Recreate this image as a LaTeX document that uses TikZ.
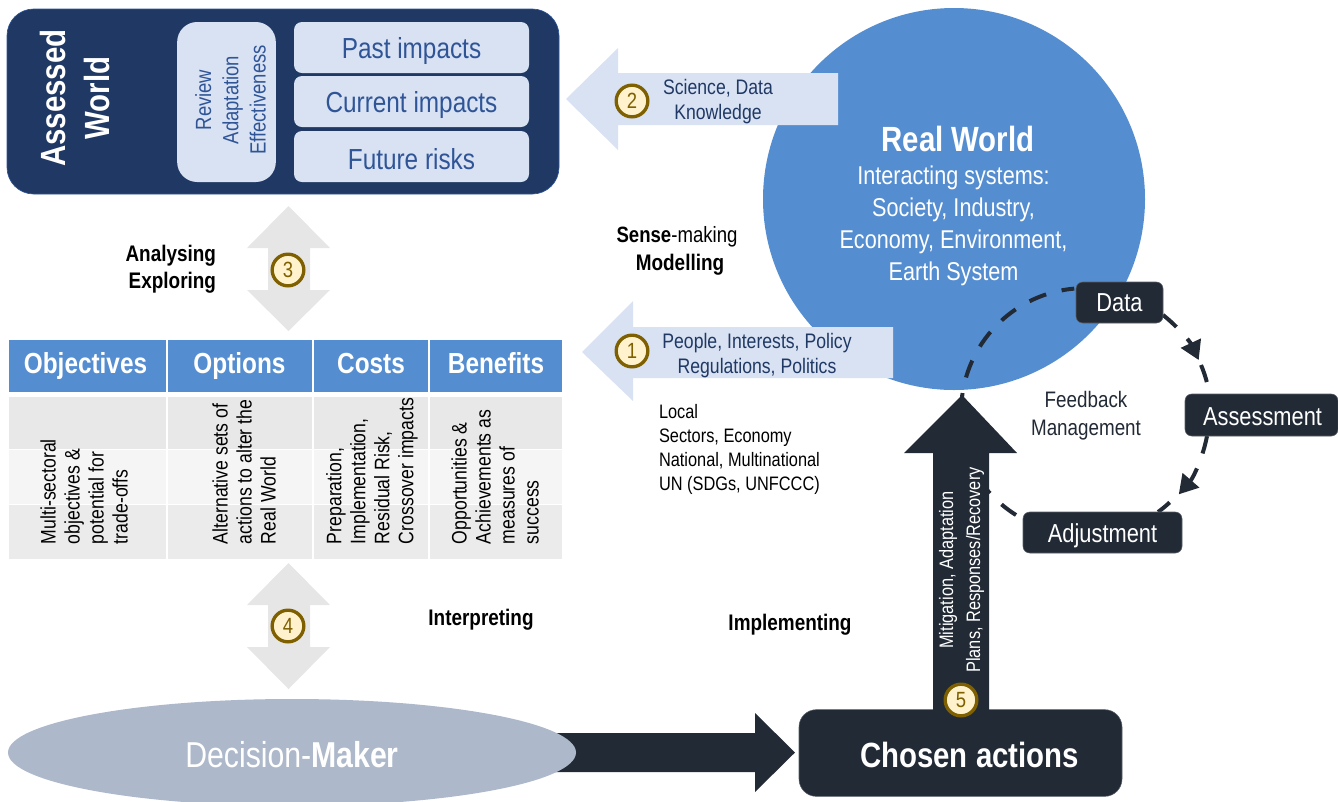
\documentclass[tikz,border=0pt]{standalone}
\usepackage{fontspec}
\setmainfont{Liberation Sans}[FakeStretch=0.84]
\usetikzlibrary{arrows.meta,shapes.geometric}
\definecolor{navy}{HTML}{1F3864}
\definecolor{lblue}{HTML}{D9E2F3}
\definecolor{tblue}{HTML}{2F5597}
\definecolor{mblue}{HTML}{558ED0}
\definecolor{dark}{HTML}{222A35}
\definecolor{agrey}{HTML}{E7E6E6}
\definecolor{cfill}{HTML}{FFF2CC}
\definecolor{cline}{HTML}{7F6000}
\definecolor{slate}{HTML}{ADB9CA}
\newcommand\fs[2]{\fontsize{#1}{#2}\selectfont}
\newcommand\lw[2]{\raisebox{-#1}[\height][\depth]{#2}}
\tikzset{
  x=0.75pt,y=-0.75pt,
  txt/.style={inner sep=0pt,outer sep=0pt,align=center},
  inbox/.style={fill=lblue,rounded corners=6pt,inner sep=0pt,outer sep=0pt,text=tblue,font=\fs{21.75}{26}},
  numc/.style={circle,fill=cfill,draw=cline,line width=2.5pt,minimum size=23.75pt,inner sep=0pt,text=cline,font=\fs{16.5}{18}},
  hdr/.style={fill=mblue,inner sep=0pt,outer sep=0pt,text=white,text height=15.5pt,text depth=4.5pt,font=\fs{21.75}{26}\bfseries},
  body/.style={txt,align=left,rotate=90,anchor=west,font=\fs{15.75}{18}},
  dkbox/.style={fill=dark,draw=dark!75!white,line width=0.4pt,rounded corners=5pt,inner sep=0pt,outer sep=0pt,text=white,font=\fs{19.5}{23}},
  fbdash/.style={draw=dark,line width=3pt,dash pattern=on 13.5pt off 12pt},
  fbhead/.style={-{Triangle[length=14pt,width=16pt]}},
  bl/.style={txt,font=\fs{16.9}{20}\bfseries},
  nm/.style={txt,font=\fs{15.75}{18.75}}
}
\begin{document}
\begin{tikzpicture}
\useasboundingbox (0,0) rectangle (1338,801);
% Real world
\node[circle,fill=mblue,minimum size=286.5pt,inner sep=0pt] (real) at (954,199) {};
\node[txt,text=white,font=\fs{26.25}{30}\bfseries] (realt) at (958,139) {Real World};
\node[txt,text=white,font=\fs{19.3}{24}] (realb) at (953.5,225.5) {Interacting systems:\\Society, Industry,\\Economy, Environment,\\Earth System};
% Assessed World
\node[fill=navy,draw=tblue,line width=0.5pt,rounded corners=20pt,minimum width=414pt,minimum height=138.75pt,inner sep=0pt] (aw) at (283,101.5) {};
\node[txt,rotate=90,text=white,font=\fs{26.25}{33}\bfseries] (awt) at (75,98) {Assessed\\World};
\node[inbox,rounded corners=15pt,minimum width=74pt,minimum height=120pt] (rev) at (226.5,102) {};
\node[txt,rotate=90,text=tblue,font=\fs{16.5}{20.5}] (revt) at (230.5,100) {Review\\Adaptation\\Effectiveness};
\node[inbox,minimum width=176.25pt,minimum height=38.25pt] (past) at (411.5,47.5) {\lw{2.8pt}{Past impacts}};
\node[inbox,minimum width=176.25pt,minimum height=38.25pt] (curr) at (411.5,101.5) {\lw{2.8pt}{Current impacts}};
\node[inbox,minimum width=176.25pt,minimum height=38.25pt] (fut) at (411.5,156.5) {\lw{2.2pt}{Future risks}};
% Grey double arrows
\path[fill=agrey] (288.5,206) -- (330,248) -- (310,248) -- (310,290) -- (330,290) -- (288.5,331) -- (247,290) -- (268,290) -- (268,248) -- (247,248) -- cycle;
\node[numc] (n3) at (288,270) {3};
\path[fill=agrey] (288.5,563) -- (330,605) -- (310,605) -- (310,647) -- (330,647) -- (288.5,689) -- (247,647) -- (268,647) -- (268,605) -- (247,605) -- cycle;
\node[numc] (n4) at (288,626) {4};
\node[bl,align=right,anchor=east] (ana) at (216,269.5) {Analysing\\Exploring};
\node[bl] (interp) at (481,620) {Interpreting};
% Table
\node[hdr,minimum width=118pt,minimum height=39pt,text width=118pt,align=center] (h1) at (87.5,366) {\hspace*{-3pt}Objectives};
\node[hdr,minimum width=108pt,minimum height=39pt,align=center] (h2) at (239.5,366) {Options};
\node[hdr,minimum width=86pt,minimum height=39pt,align=center] (h3) at (371,366) {Costs};
\node[hdr,minimum width=99pt,minimum height=39pt,align=center] (h4) at (496,366) {Benefits};
\foreach \cx/\cw in {87.5/118,239.5/108,371/86,496/99}{
  \fill[black!9] (\cx-\cw/0.75*0.5,397) rectangle (\cx+\cw/0.75*0.5,449);
  \fill[black!4] (\cx-\cw/0.75*0.5,450) rectangle (\cx+\cw/0.75*0.5,504);
  \fill[black!8] (\cx-\cw/0.75*0.5,505) rectangle (\cx+\cw/0.75*0.5,559);
}
\node[body] (b1) at (84,544) {Multi-sectoral\\objectives \&\\potential for\\trade-offs};
\node[body] (b2) at (244,544) {Alternative sets of\\actions to alter the\\Real World};
\node[body] (b3) at (372,544) {Preparation,\\Implementation,\\Residual Risk,\\Crossover impacts};
\node[body] (b4) at (495,544) {Opportunities \&\\Achievements as\\measures of\\success};
% Text middle
\node[txt,font=\fs{16.6}{20}] (sense) at (677,237) {\textbf{Sense}-making};
\node[bl] (model) at (680,265) {Modelling};
\node[nm,align=left,anchor=west,font=\fs{14.6}{18}] (local) at (659,449.5) {Local\\Sectors, Economy\\National, Multinational\\UN (SDGs, UNFCCC)};
\node[bl] (impl) at (790,625) {Implementing};
% Blue arrows
\path[fill=lblue] (566,99) -- (618,48) -- (618,73) -- (838,73) -- (838,125) -- (618,125) -- (618,150) -- cycle;
\node[numc] (n2) at (632,101) {2};
\node[nm,text=navy] (sci) at (718,101.5) {Science, Data\\Knowledge};
% Feedback
\coordinate (tipa) at (962,397);
\coordinate (dataE) at (1163,315);
\coordinate (midA) at (1201,365);
\coordinate (assB) at (1207,436);
\coordinate (adjT) at (1158,512);
\coordinate (adjL) at (1016,515);
\draw[fbdash,dash phase=10.5pt] (tipa) arc[start angle=187,end angle=265,radius=124];
\draw[fbdash,fbhead] (dataE) arc[start angle=-51.8,end angle=-25,radius=124];
\draw[fbdash] (midA) arc[start angle=-23,end angle=-9,radius=124];
\draw[fbdash,fbhead] (assB) arc[start angle=10.7,end angle=41,radius=124];
\draw[fbdash] (adjT) arc[start angle=54,end angle=47,radius=124];
\draw[fbdash] (adjL) arc[start angle=122,end angle=141.5,radius=124];
\node[dkbox,minimum width=65.25pt,minimum height=30.75pt] (data) at (1119.5,302.5) {Data};
\node[dkbox,minimum width=114.75pt,minimum height=31.5pt] (ass) at (1261.5,415) {\lw{1.5pt}{\hspace*{1.5pt}Assessment}};
\node[dkbox,minimum width=119.25pt,minimum height=30.75pt] (adj) at (1102.5,532.5) {\lw{2.2pt}{Adjustment}};
\node[txt,text=dark,font=\fs{16.8}{21}] (fb) at (1086,416) {Feedback\\Management};
% arrow 1
\path[fill=lblue] (582,352) -- (633,301) -- (633,327) -- (893,327) -- (893,378) -- (633,378) -- (633,401) -- cycle;
\node[numc] (n1) at (632,351) {1};
\node[nm,text=navy] (peop) at (757,355.5) {People, Interests, Policy\\Regulations, Politics};
% Bottom
\path[fill=dark] (555,733) -- (755,733) -- (755,713) -- (795,752.5) -- (755,792) -- (755,772) -- (555,772) -- cycle;
\node[ellipse,fill=slate,minimum width=426pt,minimum height=80.25pt,inner sep=0pt,text=white,font=\fs{27}{32}] (dm) at (292,752.5) {\lw{1.9pt}{Decision-\textbf{Maker}}};
\node[dkbox,rounded corners=13pt,minimum width=242.25pt,minimum height=65pt,font=\fs{26.25}{30}\bfseries] (chosen) at (960.5,753) {\lw{1.5pt}{\hspace*{13.5pt}Chosen actions}};
\path[fill=dark] (933,712) -- (933,453) -- (904,453) -- (962,395) -- (1017,453) -- (989,453) -- (989,712) -- cycle;
\node[txt,rotate=90,text=white,font=\fs{14.6}{20.3}] (mit) at (961.5,570) {Mitigation, Adaptation\\Plans, Responses/Recovery};
\node[numc] (n5) at (961,700) {5};
\end{tikzpicture}
\end{document}
